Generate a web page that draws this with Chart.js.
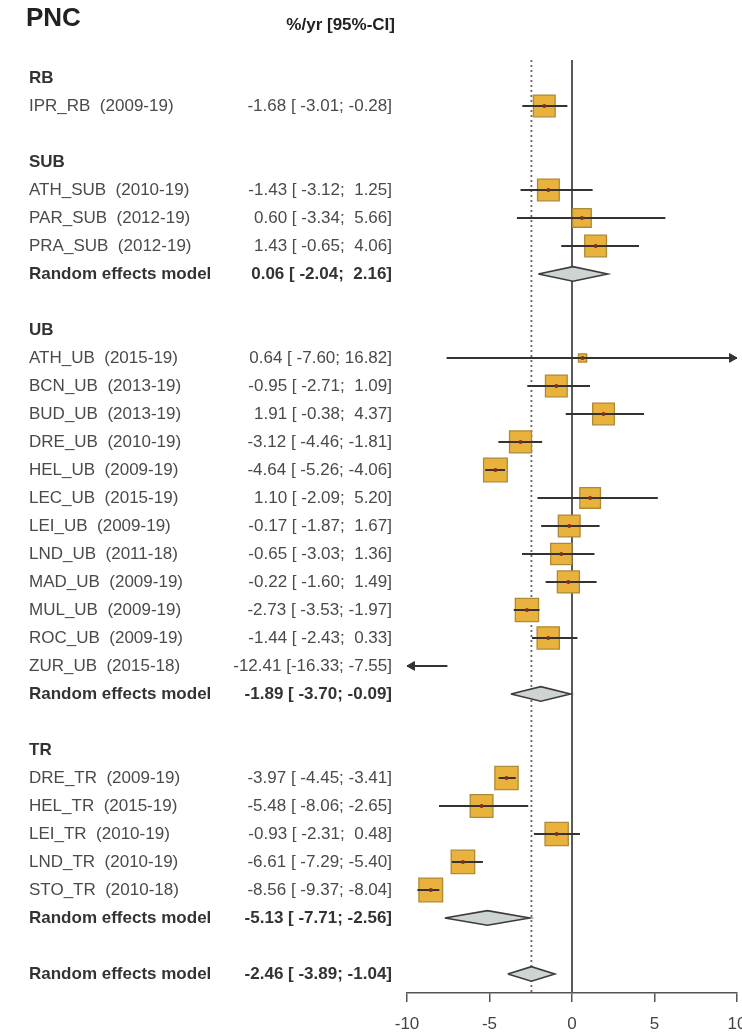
<!DOCTYPE html>
<html>
<head>
<meta charset="utf-8">
<script src="https://cdn.jsdelivr.net/npm/chart.js@4"></script>
<style>
  html, body { margin: 0; padding: 0; background: #fff; overflow: hidden; }
  canvas { display: block; }
</style>
</head>
<body>
<canvas id="grafico" width="760" height="1034"></canvas>
<script>
// Dados do forest plot (PNC, %/ano)
var groupNames = ['RB', 'SUB', 'UB', 'TR'];

var studyNames = ['IPR_RB',
    'ATH_SUB', 'PAR_SUB', 'PRA_SUB',
    'ATH_UB', 'BCN_UB', 'BUD_UB', 'DRE_UB', 'HEL_UB', 'LEC_UB', 'LEI_UB', 'LND_UB', 'MAD_UB', 'MUL_UB', 'ROC_UB', 'ZUR_UB',
    'DRE_TR', 'HEL_TR', 'LEI_TR', 'LND_TR', 'STO_TR'];
var studyPeriods = ['2009-19',
    '2010-19', '2012-19', '2012-19',
    '2015-19', '2013-19', '2013-19', '2010-19', '2009-19', '2015-19', '2009-19', '2011-18', '2009-19', '2009-19', '2009-19', '2015-18',
    '2009-19', '2015-19', '2010-19', '2010-19', '2010-18'];
var studyGroups = ['RB',
    'SUB', 'SUB', 'SUB',
    'UB', 'UB', 'UB', 'UB', 'UB', 'UB', 'UB', 'UB', 'UB', 'UB', 'UB', 'UB',
    'TR', 'TR', 'TR', 'TR', 'TR'];
var estimates = [-1.68,
    -1.43, 0.60, 1.43,
    0.64, -0.95, 1.91, -3.12, -4.64, 1.10, -0.17, -0.65, -0.22, -2.73, -1.44, -12.41,
    -3.97, -5.48, -0.93, -6.61, -8.56];
var lowerCI = [-3.01,
    -3.12, -3.34, -0.65,
    -7.60, -2.71, -0.38, -4.46, -5.26, -2.09, -1.87, -3.03, -1.60, -3.53, -2.43, -16.33,
    -4.45, -8.06, -2.31, -7.29, -9.37];
var upperCI = [-0.28,
    1.25, 5.66, 4.06,
    16.82, 1.09, 4.37, -1.81, -4.06, 5.20, 1.67, 1.36, 1.49, -1.97, 0.33, -7.55,
    -3.41, -2.65, 0.48, -5.40, -8.04];
// pesos relativos (estimados a partir do tamanho dos quadrados)
var weights = [4.2,
    4.2, 3.1, 4.2,
    0.6, 4.2, 4.2, 4.3, 5.0, 3.8, 4.2, 4.0, 4.3, 4.8, 4.4, 1.5,
    4.8, 4.6, 4.8, 4.9, 5.0];

// Modelos de efeitos aleatorios por grupo
var pooledGroups = ['SUB', 'UB', 'TR'];
var pooledEst = [0.06, -1.89, -5.13];
var pooledLower = [-2.04, -3.70, -7.71];
var pooledUpper = [2.16, -0.09, -2.56];

// Modelo global
var overallEst = -2.46;
var overallLower = -3.89;
var overallUpper = -1.04;

var xTicks = [-10, -5, 0, 5, 10];

// ---- layout ----
var FONT = '"Liberation Sans", Arial, Helvetica, sans-serif';
var X_MIN = -10, X_MAX = 10;
var Y_MIN = -0.64, Y_MAX = 32.68;
var DIAMOND_H = 0.26;

// Montar linhas da tabela
var rows = [];
var studyRow = [];
var pooledRow = [];
var r = 0;
groupNames.forEach(function(g) {
    rows.push({ row: r++, kind: 'head', text: g });
    for (var i = 0; i < studyNames.length; i++) {
        if (studyGroups[i] === g) {
            studyRow[i] = r;
            rows.push({ row: r++, kind: 'study', i: i });
        }
    }
    var p = pooledGroups.indexOf(g);
    if (p >= 0) {
        pooledRow[p] = r;
        rows.push({ row: r++, kind: 'pooled', p: p });
    }
    r++;
});
var overallRow = r;

var fmtCI = function(est, lo, hi) {
    return est.toFixed(2) + ' [' + lo.toFixed(2).padStart(6) + '; ' + hi.toFixed(2).padStart(5) + ']';
};

// datasets
var squares = [], dots = [], ciLines = [], arrows = [], arrowRot = [], sqRadius = [];
for (var i = 0; i < studyNames.length; i++) {
    var y = studyRow[i];
    squares.push({ x: estimates[i], y: y });
    sqRadius.push(5.3 * Math.sqrt(weights[i]) / Math.SQRT1_2);
    if (estimates[i] >= X_MIN && estimates[i] <= X_MAX) dots.push({ x: estimates[i], y: y });
    ciLines.push({ x: Math.max(lowerCI[i], X_MIN), y: y });
    ciLines.push({ x: Math.min(upperCI[i], X_MAX), y: y });
    ciLines.push({ x: null, y: null });
    if (upperCI[i] > X_MAX) { arrows.push({ x: X_MAX - 0.3, y: y }); arrowRot.push(90); }
    if (lowerCI[i] < X_MIN) { arrows.push({ x: X_MIN + 0.3, y: y }); arrowRot.push(-90); }
}

var diamond = function(est, lo, hi, y) {
    return {
        type: 'line',
        data: [{ x: lo, y: y }, { x: est, y: y - DIAMOND_H }, { x: hi, y: y }, { x: est, y: y + DIAMOND_H }, { x: lo, y: y }],
        borderColor: '#3c3c3c',
        borderWidth: 1.6,
        backgroundColor: '#cdd4d2',
        fill: 'shape',
        pointRadius: 0,
        tension: 0
    };
};

var datasets = [];
datasets.push({
    type: 'line', data: arrows, showLine: false, pointStyle: 'triangle',
    pointRotation: arrowRot, pointRadius: 5, backgroundColor: '#333', borderColor: '#333', borderWidth: 1, clip: false
});
datasets.push({
    type: 'line', data: dots, showLine: false, pointStyle: 'circle',
    pointRadius: 2, backgroundColor: '#8a2a12', borderColor: '#8a2a12', borderWidth: 0
});
datasets.push({
    type: 'line', data: ciLines, spanGaps: false, borderColor: '#333', borderWidth: 2, pointRadius: 0, tension: 0
});
datasets.push({
    type: 'line', data: squares, showLine: false, pointStyle: 'rect',
    pointRadius: sqRadius, backgroundColor: '#e9b23d', borderColor: '#ad8a36', borderWidth: 1.3
});
pooledGroups.forEach(function(g, p) {
    datasets.push(diamond(pooledEst[p], pooledLower[p], pooledUpper[p], pooledRow[p]));
});
datasets.push(diamond(overallEst, overallLower, overallUpper, overallRow));
datasets.push({
    type: 'line', data: [{ x: overallEst, y: Y_MIN }, { x: overallEst, y: Y_MAX }],
    borderColor: '#666', borderWidth: 1.8, borderDash: [2, 3], pointRadius: 0
});
datasets.push({
    type: 'line', data: [{ x: 0, y: Y_MIN }, { x: 0, y: Y_MAX }],
    borderColor: '#5a5a5a', borderWidth: 2, pointRadius: 0
});

// Texto da tabela a esquerda
var tablePlugin = {
    id: 'forestTable',
    afterDraw: function(chart) {
        var ctx = chart.ctx;
        var ys = chart.scales.y;
        ctx.save();
        ctx.textBaseline = 'middle';

        ctx.fillStyle = '#222';
        ctx.textAlign = 'left';
        ctx.font = 'bold 26px ' + FONT;
        ctx.fillText('PNC', 26, 19);
        ctx.textAlign = 'right';
        ctx.font = 'bold 17px ' + FONT;
        ctx.fillText('%/yr [95%-CI]', 395, 25);

        rows.forEach(function(row) {
            var py = ys.getPixelForValue(row.row);
            if (row.kind === 'head') {
                ctx.font = 'bold 17px ' + FONT;
                ctx.fillStyle = '#333';
                ctx.textAlign = 'left';
                ctx.fillText(row.text, 29, py);
            } else if (row.kind === 'study') {
                var i = row.i;
                ctx.font = '17px ' + FONT;
                ctx.fillStyle = '#4a4a4a';
                ctx.textAlign = 'left';
                ctx.fillText(studyNames[i] + '  (' + studyPeriods[i] + ')', 29, py);
                ctx.textAlign = 'right';
                ctx.fillText(fmtCI(estimates[i], lowerCI[i], upperCI[i]), 392, py);
            } else {
                var p = row.p;
                ctx.font = 'bold 17px ' + FONT;
                ctx.fillStyle = '#333';
                ctx.textAlign = 'left';
                ctx.fillText('Random effects model', 29, py);
                ctx.textAlign = 'right';
                ctx.fillText(fmtCI(pooledEst[p], pooledLower[p], pooledUpper[p]), 392, py);
            }
        });
        var oy = ys.getPixelForValue(overallRow);
        ctx.font = 'bold 17px ' + FONT;
        ctx.fillStyle = '#333';
        ctx.textAlign = 'left';
        ctx.fillText('Random effects model', 29, oy);
        ctx.textAlign = 'right';
        ctx.fillText(fmtCI(overallEst, overallLower, overallUpper), 392, oy);
        ctx.restore();
    }
};

var context = document.getElementById('grafico').getContext('2d');
var chart = new Chart(context, {
    type: 'line',
    data: { datasets: datasets },
    options: {
        responsive: false,
        animation: false,
        devicePixelRatio: 1,
        layout: { padding: { left: 407, right: 23, top: 60, bottom: 0 } },
        plugins: { legend: { display: false }, tooltip: { enabled: false } },
        scales: {
            x: {
                type: 'linear',
                min: X_MIN,
                max: X_MAX,
                afterBuildTicks: function(s) { s.ticks = xTicks.map(function(v) { return { value: v }; }); },
                afterFit: function(s) { s.height = 41; },
                grid: { drawOnChartArea: false, drawTicks: true, tickLength: 9, color: '#555', lineWidth: 1.5 },
                border: { display: true, color: '#555', width: 1.5 },
                ticks: { color: '#444', font: { size: 17, family: FONT }, padding: 12, maxRotation: 0, autoSkip: false }
            },
            y: {
                type: 'linear',
                reverse: true,
                min: Y_MIN,
                max: Y_MAX,
                display: false
            }
        }
    },
    plugins: [tablePlugin]
});
</script>
</body>
</html>
